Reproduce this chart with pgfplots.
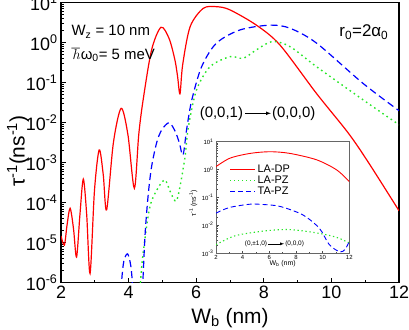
\documentclass[border=0pt]{standalone}
\usepackage{fontspec}
\setmainfont{Liberation Sans}
\usepackage{pgfplots}
\pgfplotsset{compat=1.18}
\usetikzlibrary{calc}
\definecolor{lagreen}{RGB}{40,230,40}
\begin{document}
\begin{tikzpicture}
% main panel
\begin{semilogyaxis}[
    name=main,
    scale only axis,
    width=338bp, height=280bp,
    xmin=2, xmax=12, ymin=1e-6, ymax=10,
    xtick={2,4,...,12}, minor x tick num=1,
    ytick={1e-6,1e-5,1e-4,1e-3,1e-2,1e-1,1,10},
    yticklabels={10\textsuperscript{-6},10\textsuperscript{-5},10\textsuperscript{-4},10\textsuperscript{-3},10\textsuperscript{-2},10\textsuperscript{-1},10\textsuperscript{0},10\textsuperscript{1}},
    tick align=inside, xtick pos=left, ytick pos=left,
    major tick length=5bp, minor tick length=3bp,
    every tick/.style={black, line width=0.8pt},
    axis line style={line width=1.2pt},
    /pgf/number format/assume math mode=true,
    tick label style={font=\fontsize{18}{20}\selectfont},
    xlabel={W\textsubscript{b} (nm)},
    ylabel={τ\textsuperscript{-1}(ns\textsuperscript{-1})},
    label style={font=\fontsize{21}{24}\selectfont},
    xlabel style={at={(axis description cs:0.5,-0.126)}, anchor=center},
    ylabel style={at={(axis description cs:-0.127,0.47)}, anchor=center},
    clip=true,
]
% LA-DP
\addplot[red, line width=1.2pt, smooth] coordinates {
(2.00,1.48e-5) (2.10,8.71e-6) (2.18,2.82e-5) (2.27,7.24e-5) (2.37,2.24e-5)
(2.46,4.37e-6) (2.56,5.01e-5) (2.66,3.89e-4) (2.76,5.01e-5) (2.86,1.70e-6)
(2.99,2.00e-4) (3.13,2.09e-3) (3.25,5.01e-4) (3.35,6.61e-5) (3.55,3.16e-3)
(3.78,2.29e-2) (3.98,5.01e-3) (4.17,2.29e-4) (4.30,5.01e-3) (4.43,3.72e-2)
(4.68,0.661) (4.96,2.43) (5.20,1.26) (5.37,0.371) (5.45,0.141)
(5.52,5.25e-2) (5.60,0.282) (5.82,2.51) (6.21,7.24) (6.61,7.94)
(7.00,6.61) (7.78,2.75) (8.48,0.871) (9.56,5.37e-2) (10.50,5.50e-3)
(11.10,1.00e-3) (12.00,6.31e-5)
};
% LA-PZ
\addplot[lagreen, line width=1.4pt, smooth, dash pattern=on 1.6bp off 3.4bp] coordinates {
(4.28,1e-7) (4.35,1e-6) (4.43,5.50e-6) (4.61,6.61e-5) (4.78,1.70e-4)
(5.06,3.72e-4) (5.22,2.00e-4) (5.33,1.26e-4) (5.42,1.12e-4) (5.52,2.51e-4)
(5.67,1.41e-3) (5.77,7.94e-3) (6.01,6.61e-2) (6.41,0.251) (7.00,0.447)
(7.39,0.407) (7.78,0.661) (8.25,1.07) (8.78,0.794) (9.56,0.251)
(10.94,3.72e-2) (12.00,8.9e-3)
};
% TA-PZ
\addplot[blue, line width=1.2pt, smooth, dash pattern=on 7bp off 4bp] coordinates {
(3.72,1e-7) (3.79,1e-6) (3.86,3.5e-6) (3.97,5.25e-6) (4.06,2.8e-6)
(4.11,1e-6) (4.16,1e-7)
};
\addplot[blue, line width=1.2pt, smooth, dash pattern=on 7bp off 4bp] coordinates {
(4.36,1e-7) (4.42,1e-6) (4.49,1.74e-5) (4.58,1.58e-4) (4.68,7.94e-4)
(4.83,3.16e-3) (4.98,6.61e-3) (5.20,1.00e-2) (5.38,6.03e-3) (5.50,3.16e-3)
(5.61,1.55e-3) (5.72,7.08e-3) (5.87,3.72e-2) (6.16,0.251) (6.60,0.977)
(7.30,2.09) (8.19,2.75) (8.78,2.29) (9.56,0.977) (10.94,9.55e-2)
(12.00,2.0e-2)
};
\node[anchor=west, font=\fontsize{15}{17}\selectfont] at (rel axis cs:0.021,0.896) {W\textsubscript{z} = 10 nm};
\node[anchor=west, font=\fontsize{15}{17}\selectfont] at (rel axis cs:0.021,0.813) {$\hbar$ω\textsubscript{0}= 5 meV};
\node[font=\fontsize{17}{19}\selectfont] at (rel axis cs:0.896,0.895) {r\textsubscript{0}=2α\textsubscript{0}};
\node[anchor=east, font=\fontsize{15}{17}\selectfont, inner sep=0pt] (s1) at (rel axis cs:0.539,0.605) {(0,0,1)};
\node[anchor=west, font=\fontsize{15}{17}\selectfont, inner sep=0pt] (s0) at (rel axis cs:0.624,0.605) {(0,0,0)};
\draw[-latex, line width=0.7pt] ([xshift=2bp]s1.east) -- ([xshift=-1bp]s0.west);
\end{semilogyaxis}

% inset
\begin{semilogyaxis}[
    at={($(main.south west)+(155bp,29.4bp)$)}, anchor=south west,
    scale only axis,
    width=133.3bp, height=111.6bp,
    xmin=2, xmax=12, ymin=1e-3, ymax=10,
    axis background/.style={fill=white},
    xtick={2,4,...,12}, minor x tick num=1,
    ytick={1e-3,1e-2,1e-1,1,10},
    yticklabels={10\textsuperscript{-3},10\textsuperscript{-2},10\textsuperscript{-1},10\textsuperscript{0},10\textsuperscript{1}},
    tick align=inside, xtick pos=left, ytick pos=left,
    major tick length=2.5bp, minor tick length=1.5bp,
    every tick/.style={black!70, line width=0.4pt},
    axis line style={black!60, line width=0.5pt},
    /pgf/number format/assume math mode=true,
    tick label style={font=\fontsize{6}{7}\selectfont},
    xticklabel style={yshift=1bp},
    yticklabel style={xshift=1bp},
    xlabel={W\textsubscript{b} (nm)},
    ylabel={τ\textsuperscript{-1} (ns\textsuperscript{-1})},
    label style={font=\fontsize{7}{8}\selectfont},
    xlabel style={at={(axis description cs:0.5,-0.095)}, anchor=center},
    ylabel style={at={(axis description cs:-0.17,0.45)}, anchor=center},
    legend style={at={(0.1,0.81)}, anchor=north west, draw=none, fill=none,
        font=\fontsize{11}{12}\selectfont, row sep=-2bp, inner sep=0pt},
    legend cell align=left,
    legend image code/.code={\draw[#1] (0bp,0bp) -- (25bp,0bp);},
]
\addplot[red, line width=0.9pt, smooth] coordinates {
(2.00,1.28) (3.05,2.57) (4.55,3.80) (6.05,4.37) (7.55,3.80)
(9.55,2.24) (11.05,0.977) (12.00,0.372)
};
\addplot[lagreen, line width=1.1pt, smooth, dash pattern=on 1.3bp off 2.7bp] coordinates {
(2.00,2.04e-3) (3.00,3.55e-3) (3.80,4.68e-3) (5.80,6.46e-3) (7.55,7.08e-3)
(9.55,5.37e-3) (11.00,3.80e-3) (12.00,2.34e-3)
};
\addplot[blue, line width=0.9pt, smooth, dash pattern=on 5bp off 3bp] coordinates {
(2.00,2.75e-2) (3.00,4.37e-2) (4.55,5.75e-2) (5.50,5.62e-2) (6.80,4.79e-2)
(8.50,2.40e-2) (9.75,7.94e-3) (10.50,2.04e-3) (11.30,1.12e-3) (11.70,1.41e-3)
(12.00,2.69e-3)
};
\legend{LA-DP, LA-PZ, TA-PZ}
\node[anchor=east, font=\fontsize{6.5}{7.5}\selectfont, inner sep=0pt] (i1) at (axis cs:5.85,2.19e-3) {(0,±1,0)};
\node[anchor=west, font=\fontsize{6.5}{7.5}\selectfont, inner sep=0pt] (i0) at (axis cs:7.18,2.19e-3) {(0,0,0)};
\draw[-latex, line width=0.4pt] ([xshift=1bp]i1.east) -- ([xshift=-1bp]i0.west);
\end{semilogyaxis}

\pgfresetboundingbox
\path ($(main.south west)+(-61bp,-47.3bp)$) rectangle ($(main.north east)+(10bp,2.7bp)$);
\end{tikzpicture}
\end{document}
